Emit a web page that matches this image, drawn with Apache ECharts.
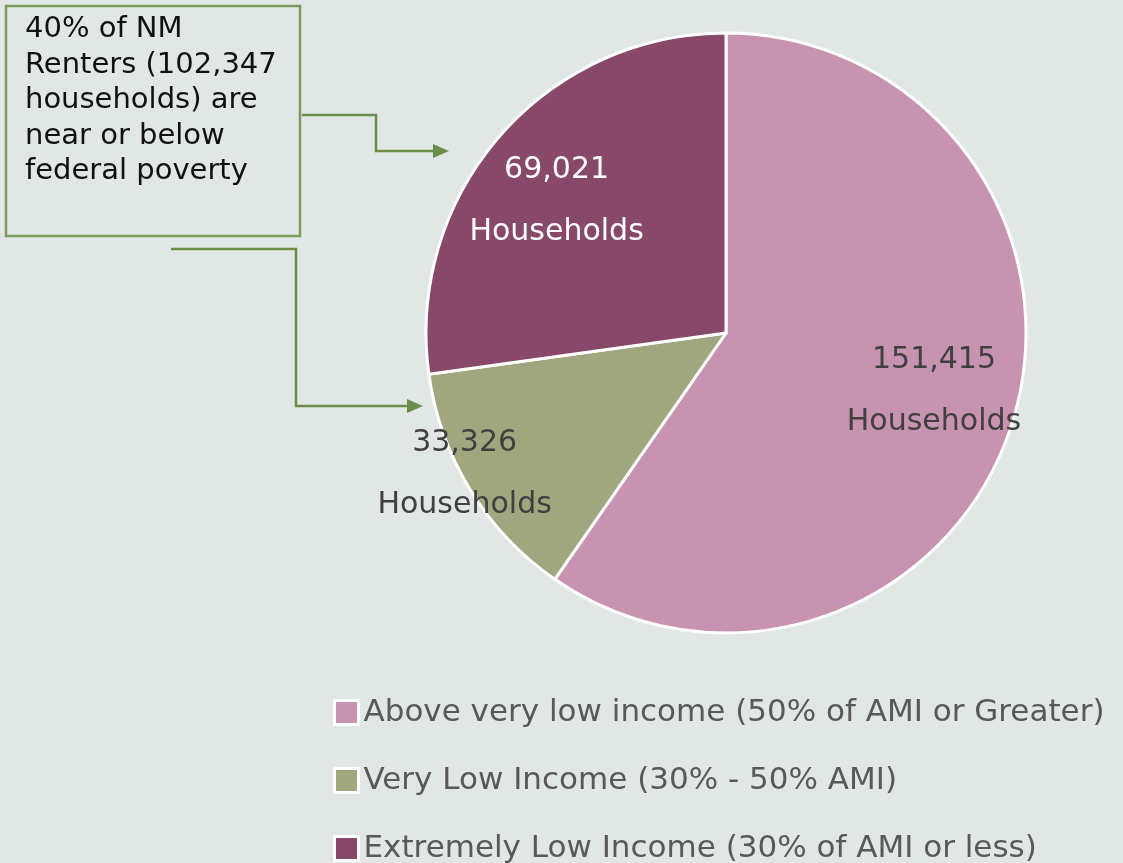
<!DOCTYPE html>
<html>
<head>
<meta charset="utf-8">
<style>
  html, body { margin: 0; padding: 0; background: #E1E7E5; }
  #chart { width: 1123px; height: 863px; }
</style>
<script src="https://cdn.jsdelivr.net/npm/echarts@6/dist/echarts.min.js"></script>
</head>
<body>
<div id="chart"></div>
<script>
// data
var categories = [
  'Above very low income (50% of AMI or Greater)',
  'Very Low Income (30% - 50% AMI)',
  'Extremely Low Income (30% of AMI or less)'
];
var households = [151415, 33326, 69021];
var sliceColors = ['#C893B0', '#A0A77E', '#87486A'];
var labelColors = ['#404040', '#404040', '#ffffff'];
var noteLines = ['40% of NM', 'Renters (102,347', 'households) are', 'near or below', 'federal poverty'];

// nudge each inside label from the radius midpoint
var labelShift = [[62, 12], [-131, 61], [-54, -31]];

var chart = echarts.init(document.getElementById('chart'));

var arrowColor = '#6B8E4B';

var option = {
  backgroundColor: '#E1E7E5',
  animation: false,
  legend: {
    orient: 'vertical',
    left: 328,
    top: 692,
    height: 200,
    itemWidth: 24,
    itemHeight: 24,
    itemGap: 37,
    icon: 'rect',
    itemStyle: { borderColor: '#fff', borderWidth: 3 },
    textStyle: {
      fontFamily: 'DejaVu Sans',
      fontSize: 31,
      color: '#595959'
    },
    data: categories
  },
  series: [{
    type: 'pie',
    center: [726, 333],
    radius: 300,
    startAngle: 90,
    clockwise: true,
    itemStyle: { borderColor: '#fff', borderWidth: 3 },
    label: {
      show: true,
      position: 'inside',
      fontFamily: 'DejaVu Sans',
      fontSize: 30,
      lineHeight: 31,
      formatter: function (p) {
        return p.value.toLocaleString('en-US') + '\n\nHouseholds';
      }
    },
    labelLine: { show: false },
    labelLayout: function (p) {
      var s = labelShift[p.dataIndex];
      return { dx: s[0], dy: s[1] };
    },
    data: categories.map(function (name, i) {
      return {
        name: name,
        value: households[i],
        itemStyle: { color: sliceColors[i] },
        label: { color: labelColors[i] }
      };
    })
  }],
  graphic: [
    {
      type: 'rect',
      shape: { x: 6, y: 6, width: 294, height: 230 },
      style: { fill: 'none', stroke: '#7A9A5A', lineWidth: 2.5 }
    },
    {
      type: 'text',
      left: 25,
      top: 12,
      style: {
        text: noteLines.join('\n'),
        font: '29px "DejaVu Sans"',
        lineHeight: 35.5,
        fill: '#111'
      }
    },
    {
      type: 'polyline',
      shape: { points: [[302, 115], [376, 115], [376, 151], [436, 151]] },
      style: { stroke: arrowColor, lineWidth: 2.5, fill: 'none' }
    },
    {
      type: 'polygon',
      shape: { points: [[433, 144], [449, 151], [433, 158]] },
      style: { fill: arrowColor }
    },
    {
      type: 'polyline',
      shape: { points: [[171, 249], [296, 249], [296, 406], [410, 406]] },
      style: { stroke: arrowColor, lineWidth: 2.5, fill: 'none' }
    },
    {
      type: 'polygon',
      shape: { points: [[407, 399], [423, 406], [407, 413]] },
      style: { fill: arrowColor }
    }
  ]
};

chart.setOption(option);
</script>
</body>
</html>
